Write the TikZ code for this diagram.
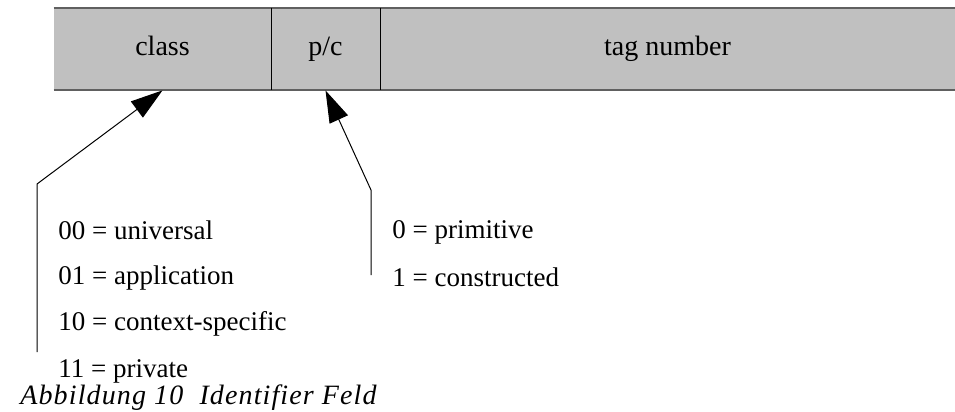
\documentclass[tikz,border=0pt]{standalone}
\usepackage{fontspec}
\setmainfont{Liberation Serif}
\newfontfamily\captionfont[LetterSpace=4]{Liberation Serif}
\usepackage{tikz}
\usetikzlibrary{arrows.meta,positioning}

\definecolor{fieldgray}{HTML}{C0C0C0}
\definecolor{edgegray}{HTML}{606060}

\begin{document}
\begin{tikzpicture}
			[
				x=0.5pt, y=-0.5pt,
				font=\fontsize{13.5}{16}\selectfont,
				field/.style={fill=fieldgray,draw=none,minimum height=41pt,inner sep=0pt,
					text height=9pt,text depth=3pt,font=\fontsize{14}{16}\selectfont},
				label/.style={draw=none,fill=none,anchor=west,inner sep=0pt},
				arrow/.style={-{Triangle[length=16pt,width=10pt]}, line width=0.5pt}
			]
			\useasboundingbox (0,0) rectangle (955,412);

			% identifier octet
			\node[field,minimum width=108.5pt] (class) at ( 162.5, 49 ) {class};
			\node[field,minimum width=54.5pt] (pc) at ( 325.5, 49 ) {p/c};
			\node[field,minimum width=287.5pt] (tag) at ( 667.5, 49 ) {tag number};

			\draw[edgegray,line width=1pt] (class.north west) -- (tag.north east);
			\draw[edgegray,line width=1pt] (class.south west) -- (tag.south east);
			\draw[line width=0.5pt] (class.north east) -- (class.south east);
			\draw[line width=0.5pt] (pc.north east) -- (pc.south east);

			% class values
			\node[label] (cl0) at (  58, 230 ) {00 = universal};
			\node[label] (cl1) at (  58, 278 ) {01 = application};
			\node[label] (cl2) at (  58, 324 ) {10 = context-specific};
			\node[label] (cl3) at (  58, 371 ) {11 = private};

			% p/c values
			\node[label] (pc0) at ( 392, 232 ) {0 = primitive};
			\node[label] (pc1) at ( 392, 277 ) {1 = constructed};

			% pointers
			\coordinate (clfoot) at (  37, 352 );
			\coordinate (clbend) at (  37, 184 );
			\coordinate (pcfoot) at ( 371, 275 );
			\coordinate (pcbend) at ( 371, 190 );

			\draw[arrow] (clfoot) -- (clbend) -- (class.south);
			\draw[arrow] (pcfoot) -- (pcbend) -- (pc.south);

			% caption
			\node[label] (caption) at (  20, 398 ) {\captionfont\itshape\fontsize{14}{17}\selectfont Abbildung 10\ \ Identifier Feld};

		\end{tikzpicture}
\end{document}
